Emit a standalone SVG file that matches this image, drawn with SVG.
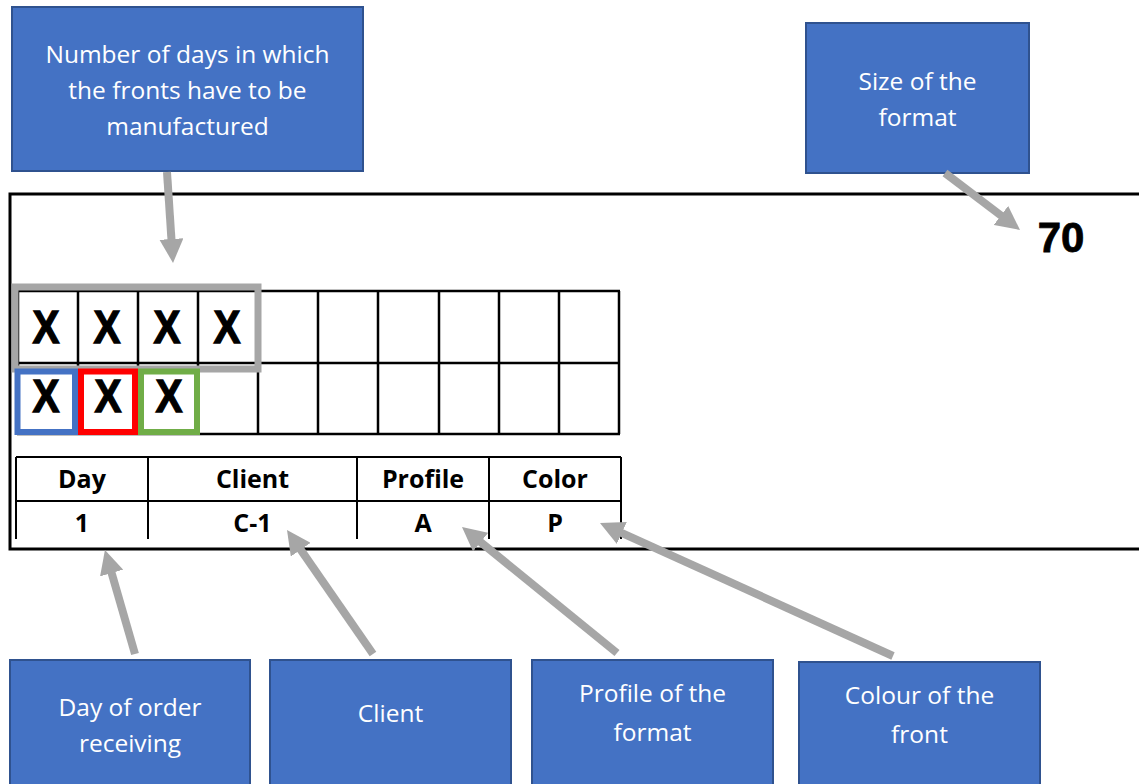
<svg xmlns="http://www.w3.org/2000/svg" width="1139" height="784" viewBox="0 0 1139 784">
<style>
.box{fill:#4472C4;stroke:#2F528F;stroke-width:2}
.lbl{font-family:"Open Sans","Liberation Sans",sans-serif;font-size:24.5px;fill:#ffffff;text-anchor:middle}
.grid{stroke:#000;stroke-width:2.5;fill:none}
.tbl{stroke:#000;stroke-width:2;fill:none}
.bx{font-family:"Liberation Sans",Arial,sans-serif;font-weight:bold;font-size:46px;fill:#000;stroke:#000;stroke-width:1.3;text-anchor:middle}
.th{font-family:"Open Sans","Liberation Sans",sans-serif;font-weight:bold;font-size:25px;fill:#000;text-anchor:middle}
.arr{stroke:#A6A6A6;stroke-width:8;fill:none;marker-end:url(#ah)}
</style>
<defs>
<marker id="ah" viewBox="0 0 24 24" refX="4" refY="12" markerWidth="24" markerHeight="24" markerUnits="userSpaceOnUse" orient="auto">
<path d="M0,0 L24,12 L0,24 z" fill="#A6A6A6"/>
</marker>
</defs>
<rect width="1139" height="784" fill="#ffffff"/>

<g id="frame">
<rect x="10" y="194" width="1145" height="355" fill="#ffffff" stroke="#000" stroke-width="3"/>
</g>

<g id="grid">
<path class="grid" d="M17,291 H620 M17,363 H620 M17,434 H620 M18,291 V434 M78,291 V434 M138,291 V434 M198,291 V434 M258,291 V434 M318,291 V434 M378,291 V434 M439,291 V434 M499,291 V434 M559,291 V434 M619,291 V434"/>
</g>

<g id="marks">
<text class="bx" x="46" y="343" textLength="27" lengthAdjust="spacingAndGlyphs">X</text>
<text class="bx" x="107" y="343" textLength="27" lengthAdjust="spacingAndGlyphs">X</text>
<text class="bx" x="167" y="343" textLength="27" lengthAdjust="spacingAndGlyphs">X</text>
<text class="bx" x="227" y="343" textLength="27" lengthAdjust="spacingAndGlyphs">X</text>
</g>

<g id="days-group">
<rect x="15" y="287" width="243" height="82" fill="none" stroke="#A6A6A6" stroke-width="7"/>
</g>

<g id="colored-cells">
<rect x="17.5" y="371.5" width="57.5" height="60.5" fill="#ffffff" stroke="#4472C4" stroke-width="6"/>
<rect x="81" y="371.5" width="54" height="60.5" fill="#ffffff" stroke="#FF0000" stroke-width="6"/>
<rect x="141" y="371.5" width="56" height="60.5" fill="#ffffff" stroke="#70AD47" stroke-width="6"/>
<text class="bx" x="46" y="412" textLength="27" lengthAdjust="spacingAndGlyphs" font-size="43">X</text>
<text class="bx" x="108" y="412" textLength="27" lengthAdjust="spacingAndGlyphs" font-size="43">X</text>
<text class="bx" x="169" y="412" textLength="27" lengthAdjust="spacingAndGlyphs" font-size="43">X</text>
</g>

<g id="table">
<path class="tbl" d="M16,457 H621 M16,501 H621 M16,457 V539 M148,457 V539 M357,457 V539 M489,457 V539 M621,457 V539"/>
<text class="th" x="82" y="488">Day</text>
<text class="th" x="252.5" y="488">Client</text>
<text class="th" x="423" y="488">Profile</text>
<text class="th" x="555" y="488">Color</text>
<text class="th" x="82" y="532">1</text>
<text class="th" x="252.5" y="532">C-1</text>
<text class="th" x="423" y="532">A</text>
<text class="th" x="555" y="532">P</text>
</g>

<g id="size-value">
<text x="1061" y="252" font-family="Liberation Sans, Arial, sans-serif" font-weight="bold" font-size="42" text-anchor="middle" stroke="#000" stroke-width="0.8">70</text>
</g>

<g id="node-days">
<rect class="box" x="12" y="7" width="351" height="164"/>
<text class="lbl" x="187.5" y="63">Number of days in which</text>
<text class="lbl" x="187.5" y="99">the fronts have to be</text>
<text class="lbl" x="187.5" y="135">manufactured</text>
</g>

<g id="node-size">
<rect class="box" x="806" y="23" width="223" height="150"/>
<text class="lbl" x="917.5" y="90">Size of the</text>
<text class="lbl" x="917.5" y="126">format</text>
</g>

<g id="node-day">
<rect class="box" x="10" y="660" width="240" height="140"/>
<text class="lbl" x="130" y="716">Day of order</text>
<text class="lbl" x="130" y="752">receiving</text>
</g>

<g id="node-client">
<rect class="box" x="270" y="660" width="241" height="140"/>
<text class="lbl" x="390.5" y="722">Client</text>
</g>

<g id="node-profile">
<rect class="box" x="532" y="660" width="241" height="140"/>
<text class="lbl" x="652.5" y="702">Profile of the</text>
<text class="lbl" x="652.5" y="741">format</text>
</g>

<g id="node-colour">
<rect class="box" x="799" y="662" width="241" height="140"/>
<text class="lbl" x="919.5" y="704">Colour of the</text>
<text class="lbl" x="919.5" y="743">front</text>
</g>

<g id="connectors">
<line class="arr" x1="167" y1="172" x2="171.7" y2="243"/>
<line class="arr" x1="945" y1="173" x2="1004.1" y2="217.9"/>
<line class="arr" x1="135" y1="654" x2="110.5" y2="569.2"/>
<line class="arr" x1="373" y1="654" x2="298.4" y2="546.4"/>
<line class="arr" x1="617" y1="653" x2="477.5" y2="539.6"/>
<line class="arr" x1="893" y1="656" x2="618.2" y2="531.3"/>
</g>
</svg>
